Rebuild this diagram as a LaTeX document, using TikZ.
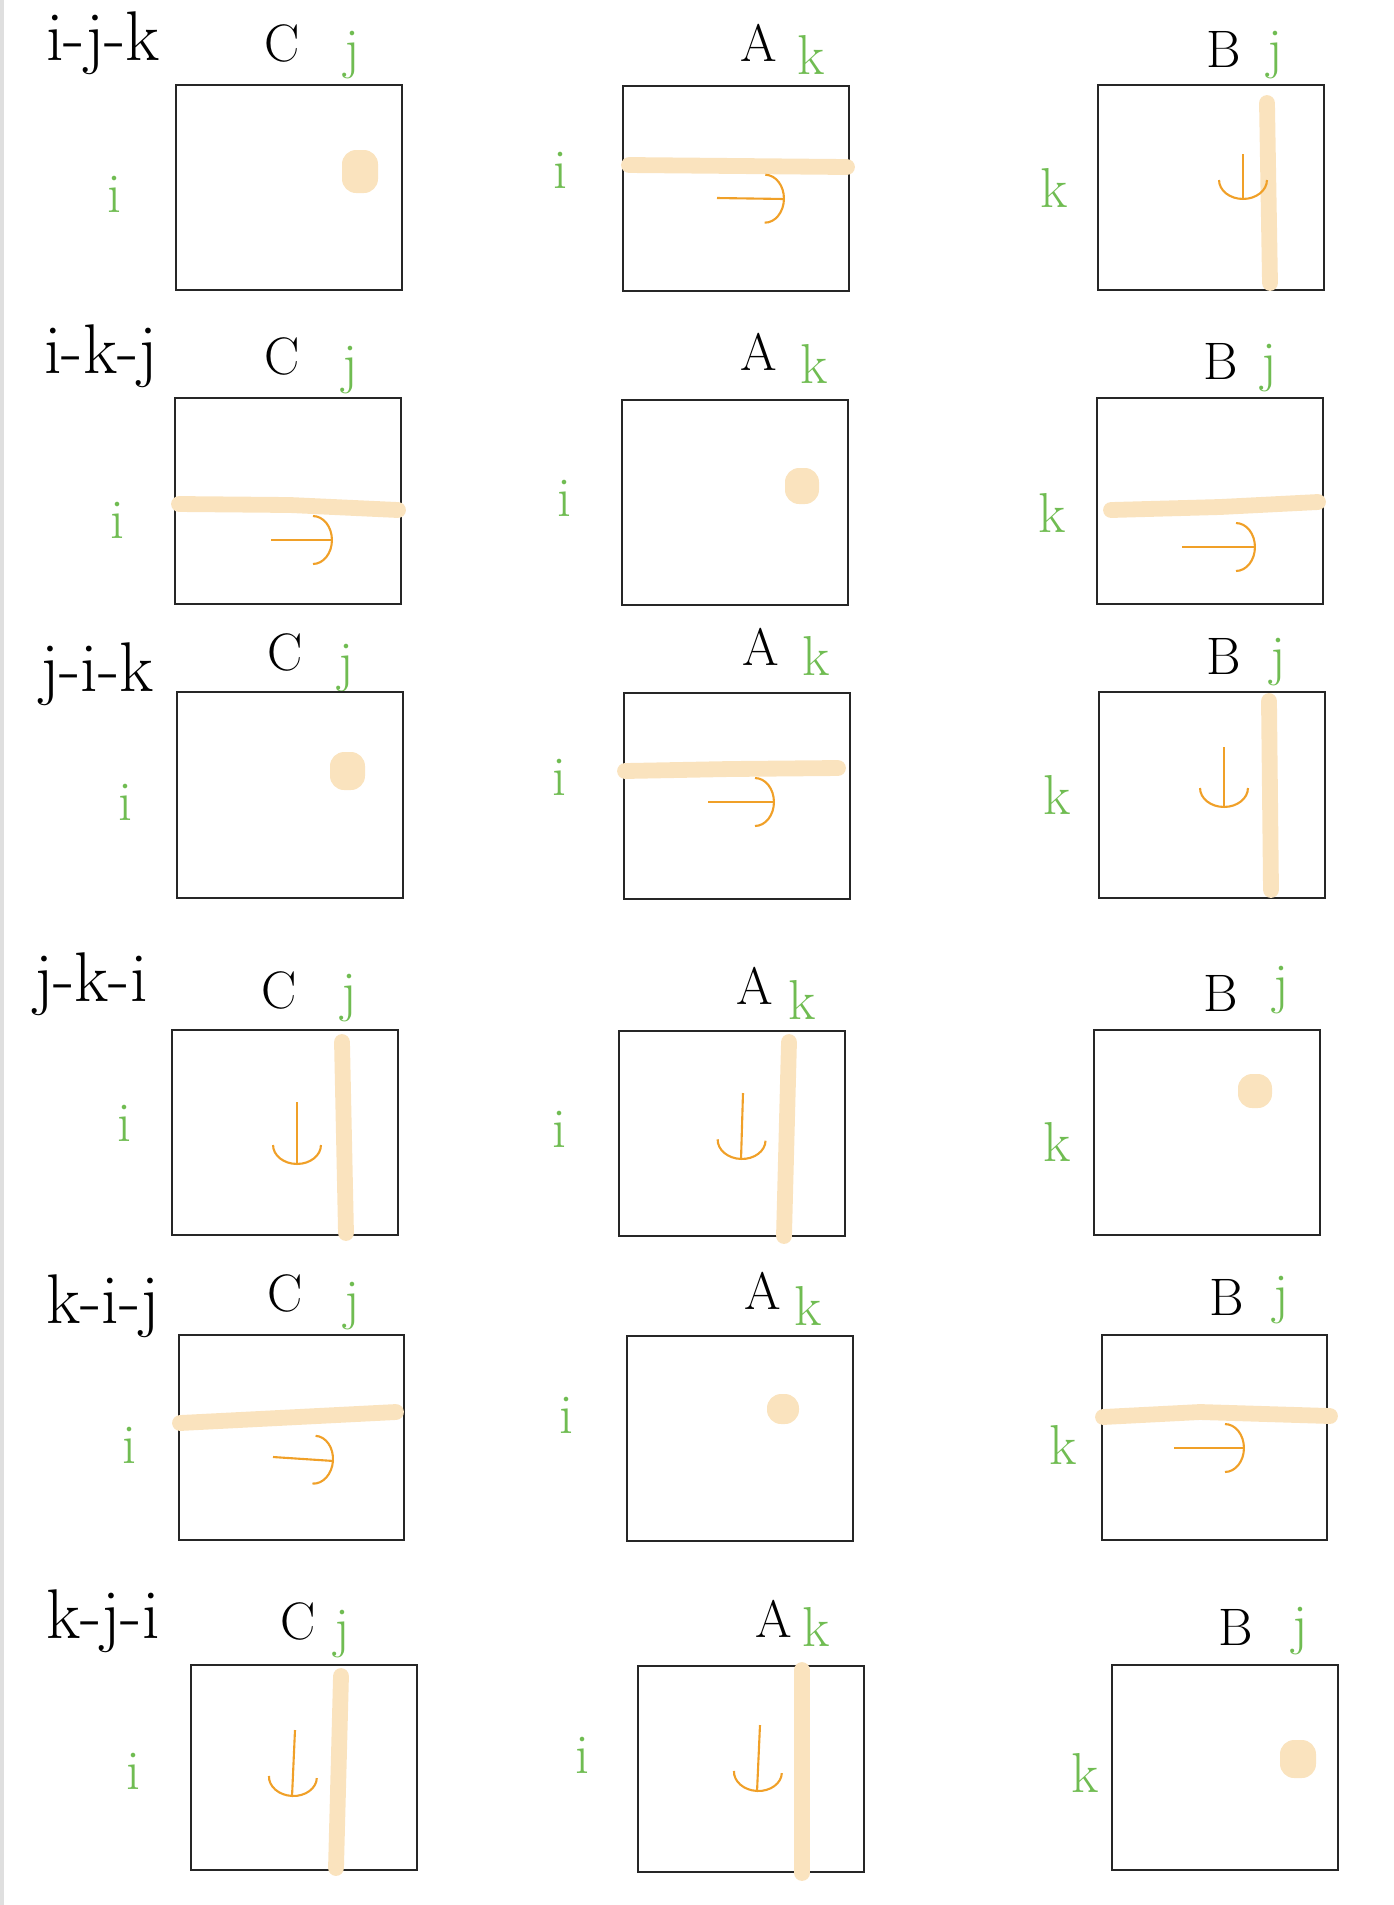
\documentclass[tikz,border=0pt]{standalone}
\usepackage{tikz}
\usetikzlibrary{arrows.meta}
\definecolor{idxgreen}{RGB}{112,188,82}
\definecolor{scanorange}{RGB}{240,160,40}
\definecolor{hilite}{RGB}{250,227,190}

\begin{document}
\begin{tikzpicture}[x=0.01cm, y=-0.01cm,
  looplabel/.style={font=\fontsize{20}{22}\selectfont},
  matlabel/.style={font=\fontsize{15}{17}\selectfont},
  idx/.style={font=\fontsize{16}{18}\selectfont, text=idxgreen},
  matbox/.style={draw=black!85, line width=0.8pt},
  hitbar/.style={draw=hilite, line width=4.5pt, line cap=round, line join=round},
  hitdot/.style={fill=hilite, rounded corners=4pt},
  scanarrow/.style={draw=scanorange, line width=0.6pt, -{Arc Barb[length=2mm, width=5mm]}}]
  \useasboundingbox (0,0) rectangle (1393,1905);
  \draw[gray!25, line width=1pt] (2,0) -- (2,1905);

  % row 1: i-j-k
  \node[looplabel] (loop1) at (103,43) {i-j-k};
  \node[matlabel] (C1) at (282,43) {C};
  \node[idx] (C1j) at (352,55) {j};
  \node[idx] (C1i) at (115,194) {i};
  \draw[matbox] (176,85) rectangle (402,290);
  \fill[hitdot] (342,150) rectangle (378,193);
  \node[matlabel] (A1) at (759,43) {A};
  \node[idx] (A1k) at (811,55) {k};
  \node[idx] (A1i) at (561,170) {i};
  \draw[matbox] (623,86) rectangle (849,291);
  \draw[hitbar] (629,165) -- (847,167);
  \draw[scanarrow] (717,198) -- (785,199);
  \node[matlabel] (B1) at (1224,49) {B};
  \node[idx] (B1j) at (1275,55) {j};
  \node[idx] (B1k) at (1054,188) {k};
  \draw[matbox] (1098,85) rectangle (1324,290);
  \draw[hitbar] (1267,103) -- (1270,283);
  \draw[scanarrow] (1243,154) -- (1243,200);

  % row 2: i-k-j
  \node[looplabel] (loop2) at (101,356) {i-k-j};
  \node[matlabel] (C2) at (282,356) {C};
  \node[idx] (C2j) at (350,370) {j};
  \node[idx] (C2i) at (118,520) {i};
  \draw[matbox] (175,398) rectangle (401,604);
  \draw[hitbar] (179,504) -- (290,505) -- (398,510);
  \draw[scanarrow] (271,540) -- (333,540);
  \node[matlabel] (A2) at (759,352) {A};
  \node[idx] (A2k) at (814,364) {k};
  \node[idx] (A2i) at (565,498) {i};
  \draw[matbox] (622,400) rectangle (848,605);
  \fill[hitdot] (785,468) rectangle (819,504);
  \node[matlabel] (B2) at (1221,361) {B};
  \node[idx] (B2j) at (1269,368) {j};
  \node[idx] (B2k) at (1052,513) {k};
  \draw[matbox] (1097,398) rectangle (1323,604);
  \draw[hitbar] (1111,510) -- (1220,507) -- (1318,502);
  \draw[scanarrow] (1182,547) -- (1256,547);

  % row 3: j-i-k
  \node[looplabel] (loop3) at (97,674) {j-i-k};
  \node[matlabel] (C3) at (285,652) {C};
  \node[idx] (C3j) at (346,668) {j};
  \node[idx] (C3i) at (126,802) {i};
  \draw[matbox] (177,692) rectangle (403,898);
  \fill[hitdot] (330,752) rectangle (365,790);
  \node[matlabel] (A3) at (761,647) {A};
  \node[idx] (A3k) at (816,656) {k};
  \node[idx] (A3i) at (560,777) {i};
  \draw[matbox] (624,693) rectangle (850,899);
  \draw[hitbar] (625,771) -- (730,769) -- (838,768);
  \draw[scanarrow] (708,802) -- (775,802);
  \node[matlabel] (B3) at (1224,656) {B};
  \node[idx] (B3j) at (1278,662) {j};
  \node[idx] (B3k) at (1057,795) {k};
  \draw[matbox] (1099,692) rectangle (1325,898);
  \draw[hitbar] (1269,701) -- (1271,890);
  \draw[scanarrow] (1224,747) -- (1224,808);

  % row 4: j-k-i
  \node[looplabel] (loop4) at (91,984) {j-k-i};
  \node[matlabel] (C4) at (279,990) {C};
  \node[idx] (C4j) at (349,998) {j};
  \node[idx] (C4i) at (125,1123) {i};
  \draw[matbox] (172,1030) rectangle (398,1235);
  \draw[hitbar] (342,1042) -- (346,1233);
  \draw[scanarrow] (297,1102) -- (297,1165);
  \node[matlabel] (A4) at (755,986) {A};
  \node[idx] (A4k) at (802,1000) {k};
  \node[idx] (A4i) at (560,1129) {i};
  \draw[matbox] (619,1031) rectangle (845,1236);
  \draw[hitbar] (789,1042) -- (784,1236);
  \draw[scanarrow] (743,1093) -- (741,1160);
  \node[matlabel] (B4) at (1221,993) {B};
  \node[idx] (B4j) at (1281,990) {j};
  \node[idx] (B4k) at (1057,1142) {k};
  \draw[matbox] (1094,1030) rectangle (1320,1235);
  \fill[hitdot] (1238,1074) rectangle (1272,1108);

  % row 5: k-i-j
  \node[looplabel] (loop5) at (103,1306) {k-i-j};
  \node[matlabel] (C5) at (285,1293) {C};
  \node[idx] (C5j) at (352,1306) {j};
  \node[idx] (C5i) at (130,1445) {i};
  \draw[matbox] (179,1335) rectangle (404,1540);
  \draw[hitbar] (180,1423) -- (396,1412);
  \draw[scanarrow] (273,1457) -- (334,1461);
  \node[matlabel] (A5) at (763,1291) {A};
  \node[idx] (A5k) at (808,1306) {k};
  \node[idx] (A5i) at (567,1415) {i};
  \draw[matbox] (627,1336) rectangle (853,1541);
  \fill[hitdot] (767,1394) rectangle (799,1424);
  \node[matlabel] (B5) at (1227,1297) {B};
  \node[idx] (B5j) at (1281,1300) {j};
  \node[idx] (B5k) at (1063,1445) {k};
  \draw[matbox] (1102,1335) rectangle (1327,1540);
  \draw[hitbar] (1103,1417) -- (1200,1412) -- (1330,1416);
  \draw[scanarrow] (1174,1448) -- (1245,1448);

  % row 6: k-j-i
  \node[looplabel] (loop6) at (103,1621) {k-j-i};
  \node[matlabel] (C6) at (298,1621) {C};
  \node[idx] (C6j) at (342,1634) {j};
  \node[idx] (C6i) at (134,1771) {i};
  \draw[matbox] (191,1665) rectangle (417,1870);
  \draw[hitbar] (341,1676) -- (336,1868);
  \draw[scanarrow] (295,1730) -- (292,1797);
  \node[matlabel] (A6) at (774,1619) {A};
  \node[idx] (A6k) at (816,1627) {k};
  \node[idx] (A6i) at (583,1755) {i};
  \draw[matbox] (638,1666) rectangle (864,1872);
  \draw[hitbar] (802,1670) -- (802,1873);
  \draw[scanarrow] (760,1725) -- (757,1792);
  \node[matlabel] (B6) at (1236,1627) {B};
  \node[idx] (B6j) at (1300,1631) {j};
  \node[idx] (B6k) at (1085,1773) {k};
  \draw[matbox] (1112,1665) rectangle (1338,1870);
  \fill[hitdot] (1280,1740) rectangle (1316,1778);
\end{tikzpicture}
\end{document}
